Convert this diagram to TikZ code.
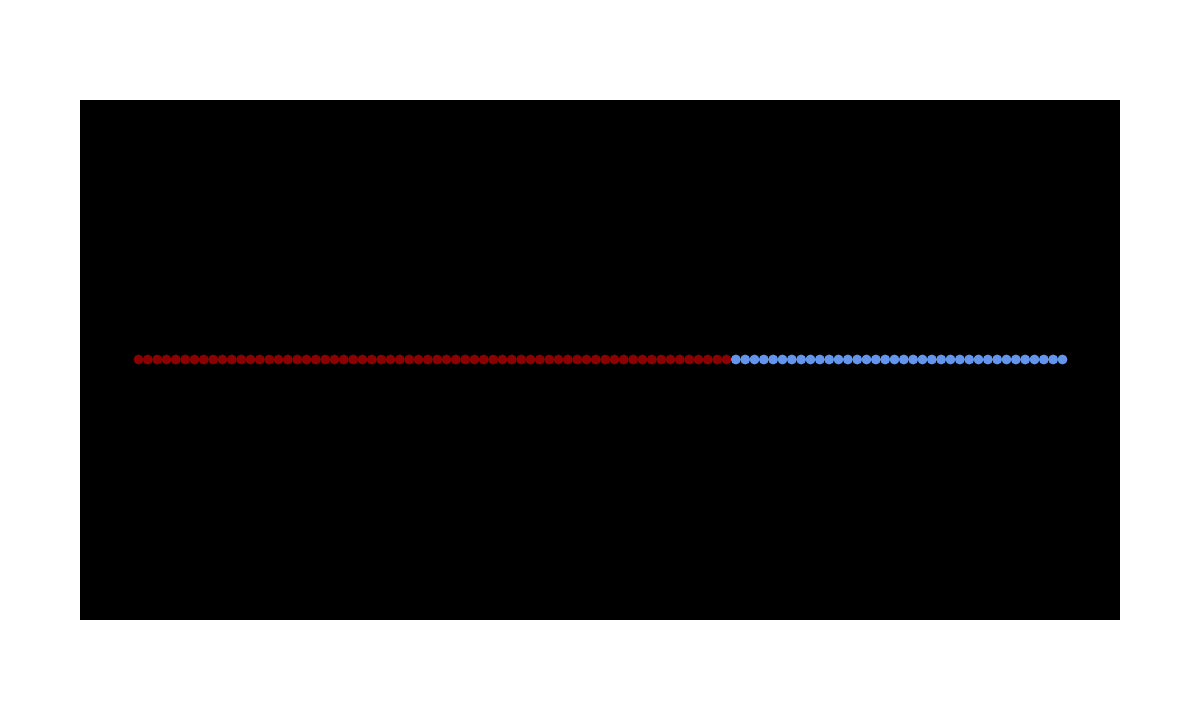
\documentclass[tikz,border=0pt]{standalone}
\usepackage{tikz-network}
\definecolor{chainred}{RGB}{139,0,0}
\definecolor{chainblue}{RGB}{100,149,237}

\begin{document}
\begin{tikzpicture}
\fill[black] (1.6,1.6) rectangle (22.4,12);
\SetVertexStyle[LineWidth=0pt, LineOpacity=0]
\foreach \i in {0,...,63}{
  \pgfmathsetmacro{\px}{2.77+0.186667*\i}
  \Vertex[x=\px, y=6.81, size=0.19, color=chainred, NoLabel]{r\i}
}
\foreach \i in {64,...,99}{
  \pgfmathsetmacro{\px}{2.77+0.186667*\i}
  \Vertex[x=\px, y=6.81, size=0.19, color=chainblue, NoLabel]{b\i}
}
\pgfresetboundingbox
\path[use as bounding box] (0,0) rectangle (24,14);
\end{tikzpicture}
\end{document}
